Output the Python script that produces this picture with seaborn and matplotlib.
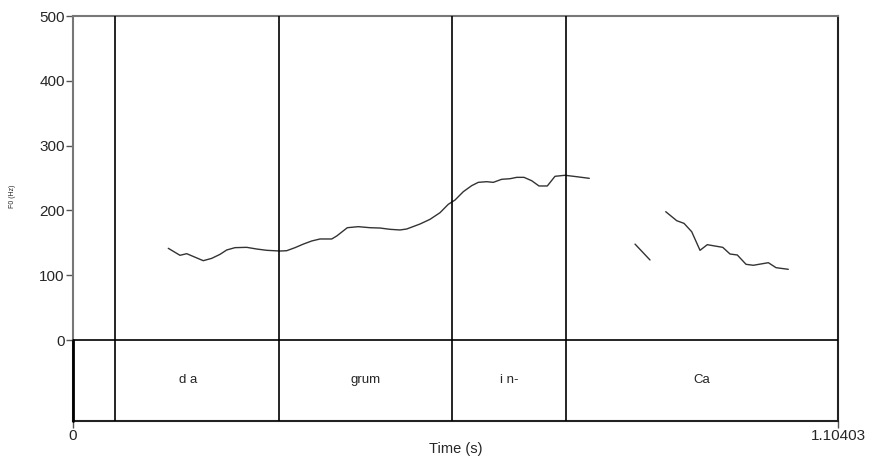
import numpy as np
import pandas as pd
import matplotlib
matplotlib.use("Agg")
import matplotlib.pyplot as plt
import seaborn as sns

sns.set_style("white")
plt.rcParams["font.family"] = ["Liberation Sans", "DejaVu Sans"]

# Pitch track (s, Hz), three voiced stretches
seg1_t = [0.1375, 0.1544, 0.1641, 0.1880, 0.2002, 0.2122, 0.2218, 0.2338, 0.2507,
          0.2651, 0.2796, 0.2987, 0.3084, 0.3204, 0.3324, 0.3445, 0.3565, 0.3734,
          0.3806, 0.3959, 0.4117, 0.4286, 0.4431, 0.4575, 0.4719, 0.4816, 0.5008,
          0.5152, 0.5297, 0.5416, 0.5513, 0.5633, 0.5754, 0.5849, 0.5970, 0.6066,
          0.6187, 0.6307, 0.6403, 0.6509, 0.6620, 0.6725, 0.6845, 0.6956, 0.7101,
          0.7269, 0.7451]
seg1_f0 = [141.5, 130.7, 133.2, 122.4, 126.0, 132.2, 138.9, 142.5, 143.0,
           140.4, 138.4, 137.3, 137.8, 142.5, 148.0, 152.8, 155.9, 155.9,
           160.5, 173.3, 174.9, 173.3, 172.8, 170.8, 169.8, 171.3, 179.0,
           186.2, 196.5, 209.4, 216.0, 228.9, 238.2, 243.3, 244.3, 243.3,
           248.0, 248.9, 251.0, 251.0, 245.8, 237.7, 237.7, 252.6, 254.2,
           252.0, 249.5]
seg2_t = [0.8111, 0.8327]
seg2_f0 = [148.0, 123.5]
seg3_t = [0.8554, 0.8713, 0.8818, 0.8929, 0.9049, 0.9154, 0.9266, 0.9377, 0.9482,
          0.9587, 0.9713, 0.9818, 1.0035, 1.0146, 1.0323]
seg3_f0 = [198.0, 184.1, 180.0, 167.1, 138.4, 147.1, 145.0, 143.0, 132.7,
           131.2, 116.8, 115.3, 119.3, 111.6, 109.1]

# Annotation tier: interval boundaries and labels
boundaries = [0.0606, 0.2973, 0.5470, 0.7115]
label_starts = [0.0350, 0.2973, 0.5470, 0.7115]
label_ends = [0.2973, 0.5470, 0.7115, 1.10403]
labels = ["d a", "grum", "i n-", "Ca"]

t_max = 1.10403
f0_ticks = [0, 100, 200, 300, 400, 500]

df = pd.concat([
    pd.DataFrame({"t": seg1_t, "f0": seg1_f0, "seg": 1}),
    pd.DataFrame({"t": seg2_t, "f0": seg2_f0, "seg": 2}),
    pd.DataFrame({"t": seg3_t, "f0": seg3_f0, "seg": 3}),
])

fig = plt.figure(figsize=(8.72, 4.58), dpi=100)
ax = fig.add_axes([73 / 872, 1 - 421 / 458, 765 / 872, 405 / 458])

sns.lineplot(data=df, x="t", y="f0", units="seg", estimator=None,
             color="#333333", linewidth=1.0, ax=ax, legend=False)

ax.set_xlim(0, t_max)
ax.set_ylim(-125, 500)

for b in boundaries:
    ax.axvline(b, color="black", linewidth=1.2, zorder=3)
ax.axhline(0, color="black", linewidth=1.2, zorder=3)
ax.plot([0, 0], [-125, 0], color="black", linewidth=2.0, clip_on=False, zorder=4)

for s, e, lab in zip(label_starts, label_ends, labels):
    ax.text((s + e) / 2, -62, lab, ha="center", va="center", fontsize=9.5)

ax.set_yticks(f0_ticks)
ax.set_yticklabels([str(v) for v in f0_ticks], fontsize=11)
ax.set_xticks([0, t_max])
ax.set_xticklabels(["0", "1.10403"], fontsize=11)
ax.tick_params(axis="both", direction="out", length=5, width=1, color="#555555",
               left=True, bottom=True, pad=1)

ax.set_xlabel("Time (s)", fontsize=10.5, labelpad=-1)
ax.set_ylabel("")
fig.text(13 / 872, 1 - 196 / 458, "F0 (Hz)", rotation=90, fontsize=5,
         ha="center", va="center")

for side in ["top", "left"]:
    ax.spines[side].set_color("#777777")
    ax.spines[side].set_linewidth(1.5)
for side in ["bottom", "right"]:
    ax.spines[side].set_color("#222222")
    ax.spines[side].set_linewidth(1.5)

fig.savefig("out.png", dpi=100)
